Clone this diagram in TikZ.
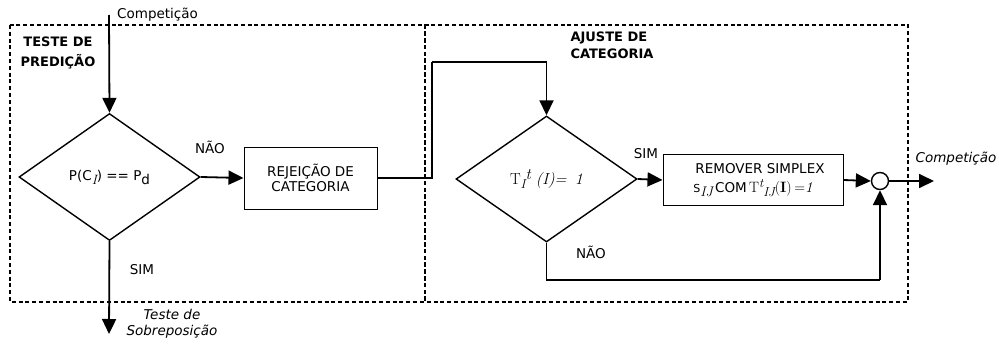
\documentclass[tikz,border=0pt]{standalone}
\usepackage{fontspec}
\setmainfont{DejaVu Sans}
\newfontfamily\lmr{Latin Modern Roman}
\usetikzlibrary{shapes.geometric,arrows.meta}
% serif pieces of the formulas
\newcommand{\srf}[1]{{\lmr #1}}
\newcommand{\srfi}[1]{{\lmr\itshape #1}}
\newcommand{\dn}[1]{\raisebox{-4pt}{#1}}
\newcommand{\up}[1]{\raisebox{5pt}{#1}}
\begin{document}
\begin{tikzpicture}[x=1pt,y=-1pt,
  font=\fontsize{13.5}{15}\selectfont,
  frame/.style={line width=1.6pt,dash pattern=on 4pt off 2.8pt},
  conn/.style={line width=1.8pt},
  arr/.style={conn,-{Triangle[length=15pt,width=14pt]}},
  decision/.style={diamond,draw,line width=1.4pt,inner sep=0pt,aspect=1.43},
  procbox/.style={rectangle,draw,line width=1pt,align=center,inner sep=0pt},
  junction/.style={circle,draw,line width=1.4pt,minimum size=17pt,inner sep=0pt},
  lbl/.style={inner sep=0pt},
  title/.style={inner sep=0pt,font=\fontsize{13}{20}\selectfont\bfseries}]
\useasboundingbox (0,0) rectangle (999,343);

% the two dashed stage frames
\draw[frame] (10,25) rectangle (425,302);
\draw[frame] (425,25) rectangle (908,302);

\node[title,align=center] (t1) at (58,53) {TESTE DE\\PREDIÇÃO};
\node[title,align=left] (t2) at (612,45) {AJUSTE DE\\[-3pt]CATEGORIA};

% free ends
\coordinate (cin) at (109,15);
\coordinate (sout) at (109,334);
\coordinate (cout) at (934,181);
\coordinate (k1) at (432,62);
\coordinate (k2) at (880,280);

% blocks
\node[decision,minimum width=181pt,minimum height=127pt] (d1) at (109.5,177)
  {P(C\dn{\srfi{I}}) == P\dn{d}};
\node[decision,minimum width=181pt,minimum height=126pt,font=\fontsize{16}{18}\selectfont] (d2) at (546.5,179)
  {\srf{T}\dn{\srfi{\fontsize{13}{14}\selectfont I}}\up{\srfi{t}}\ \srfi{(I)= \,1}};
\node[procbox,minimum width=180pt,minimum height=51pt] (b2) at (753,180)
  {\hspace*{14pt}REMOVER SIMPLEX\\[4pt]
   {\fontsize{11}{12}\selectfont S}\dn{\srfi{\fontsize{14}{15}\selectfont IJ}}\,COM\,%
   {\fontsize{15}{16}\selectfont\srf{T}\up{\srfi{\fontsize{13}{14}\selectfont t}}\dn{\srfi{\fontsize{13}{14}\selectfont IJ}}\srf{(\textbf{I})\,=\textit{1}}}};
\node[procbox,minimum width=133pt,minimum height=62pt] (b1) at (310.5,178)
  {REJEIÇÃO DE\\CATEGORIA};
\node[junction] (j) at (880,181) {};

% labels
\node[lbl,anchor=west] (l1) at (117,15) {Competição};
\node[lbl] (l2) at (210,147) {NÃO};
\node[lbl] (l3) at (142,270) {SIM};
\node[lbl,align=center,font=\fontsize{13.5}{16}\selectfont\itshape] (l4) at (172,324)
  {Teste de\\Sobreposição};
\node[lbl] (l5) at (646,154) {SIM};
\node[lbl] (l6) at (591,252) {NÃO};
\node[lbl,font=\fontsize{13.5}{15}\selectfont\itshape] (l7) at (956,159) {Competição};

% connectors
\draw[arr] (cin) -- (d1.north);
\draw[arr] (d1.east) -- (b1.west);
\draw[conn] (b1.east) -| (k1);
\draw[arr] (k1) -| (d2.north);
\draw[arr] (d2.east) -- (b2.west);
\draw[arr] (b2.east) -- (j.west);
\draw[arr] (j.east) -- (cout);
\draw[conn] (d2.south) |- (k2);
\draw[arr] (k2) -- (j.south);
\draw[arr] (d1.south) -- (sout);
\end{tikzpicture}
\end{document}
